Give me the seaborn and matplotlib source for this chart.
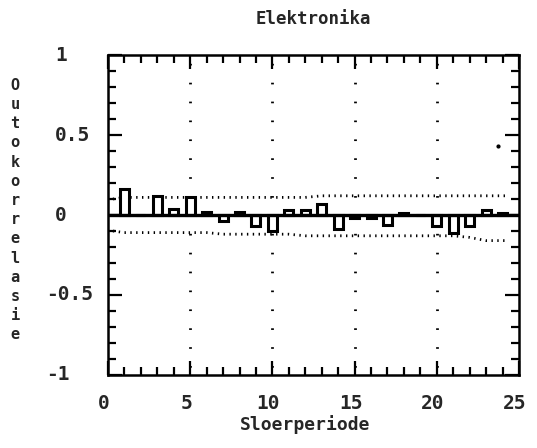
import numpy as np
import pandas as pd
import matplotlib
matplotlib.use("Agg")
import matplotlib.pyplot as plt
import matplotlib.transforms as mtransforms
from matplotlib.ticker import MultipleLocator
import seaborn as sns

# ---- data ----
lags = list(range(1, 25))
acf = [0.16, 0.00, 0.12, 0.04, 0.11, 0.02, -0.04, 0.02, -0.07, -0.10,
       0.03, 0.03, 0.07, -0.09, -0.02, -0.02, -0.06, 0.01, 0.00, -0.07,
       -0.11, -0.07, 0.03, 0.01]
band_x = [0.3, 1, 2, 3, 4, 5, 6, 7, 8, 9, 10, 11, 12, 13, 14, 15, 16, 17,
          18, 19, 20, 21, 22, 23, 24.2]
band_upper = [0.10, 0.11, 0.11, 0.11, 0.11, 0.11, 0.11, 0.11, 0.11, 0.11,
              0.11, 0.11, 0.11, 0.12, 0.12, 0.12, 0.12, 0.12, 0.12, 0.12,
              0.12, 0.12, 0.12, 0.12, 0.12]
band_lower = [-0.10, -0.11, -0.11, -0.11, -0.11, -0.11, -0.11, -0.12, -0.12,
              -0.12, -0.12, -0.12, -0.13, -0.13, -0.13, -0.13, -0.13, -0.13,
              -0.13, -0.13, -0.13, -0.13, -0.14, -0.16, -0.16]
stray_x = [23.7]
stray_y = [0.43]
grid_x = [5, 10, 15, 20]
xticks = [0, 5, 10, 15, 20, 25]
yticks = [-1, -0.5, 0, 0.5, 1]
ytick_labels = ["-1", "-0.5", "0", "0.5", "1"]
title = "Elektronika"
xlabel = "Sloerperiode"
ylabel = "Outokorrelasie"

sns.set_theme(style="white")
plt.rcParams['font.family'] = ['DejaVu Sans Mono', 'DejaVu Sans']
plt.rcParams['font.weight'] = 'bold'

fig = plt.figure(figsize=(5.37, 4.48), dpi=100)
W, H = 537, 448
ax = fig.add_axes([108 / W, 1 - 375 / H, 411 / W, 320 / H])

df = pd.DataFrame({"lag": lags, "acf": acf})
sns.barplot(data=df, x="lag", y="acf", native_scale=True, width=0.55,
            fill=False, color="black", linewidth=2.2, ax=ax, errorbar=None)
for p in ax.patches:
    p.set_edgecolor("black")
    p.set_facecolor("white")
    p.set_fill(True)
    p.set_zorder(3)

bdf = pd.DataFrame({"x": band_x, "up": band_upper, "lo": band_lower})
sns.lineplot(data=bdf, x="x", y="up", ax=ax, color="black", lw=2.0,
             linestyle=(0, (0.5, 1.6)), zorder=2)
sns.lineplot(data=bdf, x="x", y="lo", ax=ax, color="black", lw=2.0,
             linestyle=(0, (0.5, 1.6)), zorder=2)
ax.plot(stray_x, stray_y, "o", color="black", ms=2.0)

for gx in grid_x:
    ax.axvline(gx, color="black", lw=2.0, linestyle=(4.0, (0.6, 6.2)), zorder=1)

ax.axhline(0, color="black", lw=2.4, zorder=4)

ax.set_xlim(0, 25)
ax.set_ylim(-1, 1)
ax.set_xticks(xticks)
ax.set_xticklabels([str(t) for t in xticks], fontsize=14, fontweight="bold")
ax.xaxis.set_minor_locator(MultipleLocator(1))
ax.set_yticks(yticks)
ax.set_yticklabels([])
ax.yaxis.set_minor_locator(MultipleLocator(0.1))
ax.tick_params(axis="both", which="major", direction="in", length=10,
               width=1.6, top=True, right=True, bottom=True, left=True,
               color="black")
ax.tick_params(axis="both", which="minor", direction="in", length=5.5,
               width=1.6, top=True, right=True, bottom=True, left=True,
               color="black")
ax.tick_params(axis="x", which="major", pad=14)
ax.set_xlabel("")
ax.set_ylabel("")
for s in ax.spines.values():
    s.set_color("black")
    s.set_linewidth(1.8)
    s.set_visible(True)

off = mtransforms.ScaledTranslation(-4 / 100, 0, fig.dpi_scale_trans)
for lab in ax.get_xticklabels():
    lab.set_transform(lab.get_transform() + off)

blend = mtransforms.blended_transform_factory(fig.transFigure, ax.transData)
for v, t in zip(yticks, ytick_labels):
    x0 = (57 - 11) / W if t.startswith("-") else 55 / W
    fig.text(x0, v, t, transform=blend, ha="left", va="center",
             fontsize=14, fontweight="bold")

fig.text(313 / W, 1 - 19 / H, title, ha="center", va="center",
         fontsize=12.5, fontweight="bold")
fig.text(305 / W, 1 - 425 / H, xlabel, ha="center", va="center",
         fontsize=13, fontweight="bold")
fig.text(15 / W, 1 - 210 / H, "\n".join(ylabel), ha="center", va="center",
         fontsize=11, fontweight="bold", linespacing=1.35)

fig.savefig("out.png", dpi=100, facecolor="white")
